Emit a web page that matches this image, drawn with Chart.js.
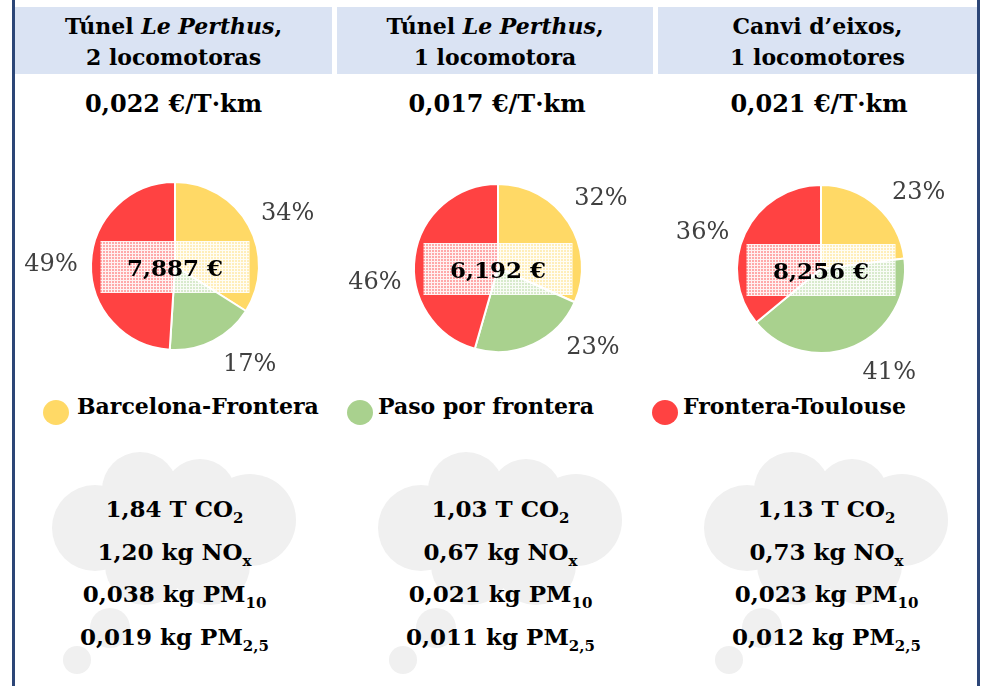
<!DOCTYPE html>
<html><head><meta charset="utf-8">
<script src="https://cdn.jsdelivr.net/npm/chart.js@4/dist/chart.umd.min.js"></script>
<style>
html,body{margin:0;padding:0;background:#fff;}
#page{position:relative;width:982px;height:686px;overflow:hidden;background:#fff;font-family:'DejaVu Serif',serif;color:#000;}
.vline{position:absolute;top:0;width:3px;height:686px;background:#2C4677;}
.hbox{position:absolute;top:7px;height:67px;background:#DAE3F3;text-align:center;font-weight:bold;font-size:22px;line-height:31px;padding-top:4px;box-sizing:border-box;}
.cost{position:absolute;top:89px;width:320px;text-align:center;font-weight:bold;font-size:24px;line-height:30px;}
.pie{position:absolute;}
.cloud{position:absolute;border-radius:50%;background:#F0F0F0;}
.emis{position:absolute;top:488px;width:320px;text-align:center;font-weight:bold;font-size:23px;line-height:42.5px;}
.emis sub{font-size:15px;vertical-align:-6px;line-height:0;}
.leg{position:absolute;top:393px;font-weight:bold;font-size:22px;line-height:26px;white-space:nowrap;}
.dot{position:absolute;width:26px;height:25px;border-radius:50%;top:400px;}
</style></head>
<body><div id="page"></div>
<script>
// ---- data ----
const titleLine1 = ['Túnel <i>Le Perthus</i>,', 'Túnel <i>Le Perthus</i>,', 'Canvi d’eixos,'];
const titleLine2 = ['2 locomotoras', '1 locomotora', '1 locomotores'];
const costPerTkm = ['0,022', '0,017', '0,021'];
const totalCost = ['7,887', '6,192', '8,256'];
const segments = ['Barcelona-Frontera', 'Paso por frontera', 'Frontera-Toulouse'];
const shareBarcelonaFrontera = [34, 32, 23];
const sharePasoFrontera = [17, 23, 41];
const shareFronteraToulouse = [49, 46, 36];
const co2 = ['1,84', '1,03', '1,13'];
const nox = ['1,20', '0,67', '0,73'];
const pm10 = ['0,038', '0,021', '0,023'];
const pm25 = ['0,019', '0,011', '0,012'];

// ---- style / layout ----
const colors = ['#FFD966', '#A9D18E', '#FF4242'];
const boxLayout = [[15, 317], [337, 316], [658, 319]];
const textCenters = [173.5, 497, 819];
const emisCenters = [174.5, 500.5, 826.5];
const pieCenters = [[174.5, 266], [497.5, 268], [821, 268.5]];
const labelNudge = [[4, -10, -1], [-1, -25, -15], [10.5, -10, -8]];
const legendDots = [43, 347, 652];
const legendText = [77, 378, 683];
const cloudOffsets = [0, 326, 652];
const cloudCircles = [[95,528,43],[140,490,38],[200,495,36],[250,520,46],[210,565,40],[145,565,40],[170,530,50],[110,628,20],[77,660,14]];

const page = document.getElementById('page');
function add(cls, style, html) {
  const d = document.createElement('div');
  d.className = cls; Object.assign(d.style, style);
  if (html !== undefined) d.innerHTML = html;
  page.appendChild(d); return d;
}
add('vline', {left: '12px'});
add('vline', {left: '977px'});

// clouds
cloudOffsets.forEach(off => {
  cloudCircles.forEach(([x, y, r]) => add('cloud', {left: (x + off - r) + 'px', top: (y - r) + 'px', width: 2*r + 'px', height: 2*r + 'px'}));
});

for (let i = 0; i < 3; i++) {
  add('hbox', {left: boxLayout[i][0] + 'px', width: boxLayout[i][1] + 'px'}, titleLine1[i] + '<br>' + titleLine2[i]);
  add('cost', {left: (textCenters[i] - 160) + 'px'}, costPerTkm[i] + ' €/T·km');
  add('emis', {left: (emisCenters[i] - 160) + 'px'},
    co2[i] + ' T CO<sub>2</sub><br>' + nox[i] + ' kg NO<sub>x</sub><br>' + pm10[i] + ' kg PM<sub>10</sub><br>' + pm25[i] + ' kg PM<sub>2,5</sub>');
}
segments.forEach((s, k) => {
  add('dot', {left: legendDots[k] + 'px', background: colors[k]});
  add('leg', {left: legendText[k] + 'px'}, s);
});

// pattern for centre box
const pc = document.createElement('canvas'); pc.width = 3; pc.height = 3;
const pctx = pc.getContext('2d');
pctx.fillStyle = 'rgba(255,255,255,0.55)'; pctx.fillRect(0, 0, 3, 3);
pctx.fillStyle = 'rgba(255,255,255,0.85)'; pctx.fillRect(0, 0, 3, 1); pctx.fillRect(0, 1, 1, 2);

const piePlugin = {
  id: 'pieDecor',
  afterDatasetsDraw(chart, args, opts) {
    const ctx = chart.ctx;
    const meta = chart.getDatasetMeta(0);
    const ds = chart.data.datasets[0];
    const cx = meta.data[0].x, cy = meta.data[0].y;
    ctx.save();
    // labels
    ctx.font = '24px "DejaVu Serif"';
    ctx.fillStyle = '#404040';
    ctx.textAlign = 'center'; ctx.textBaseline = 'middle';
    meta.data.forEach((arc, k) => {
      const mid = (arc.startAngle + arc.endAngle) / 2 + opts.nudge[k] * Math.PI / 180;
      const d = arc.outerRadius + 40;
      ctx.fillText(ds.data[k] + '%', cx + Math.cos(mid) * d, cy + Math.sin(mid) * d);
    });
    // centre box
    ctx.fillStyle = ctx.createPattern(pc, 'repeat');
    ctx.fillRect(cx - 74.5, cy + 1 - 26, 149, 52);
    ctx.font = 'bold 23px "DejaVu Serif"';
    ctx.fillStyle = '#000';
    ctx.fillText(opts.total + ' €', cx, cy + 4);
    ctx.restore();
  }
};

for (let i = 0; i < 3; i++) {
  const cv = document.createElement('canvas');
  cv.width = 320; cv.height = 260;
  cv.className = 'pie';
  cv.style.left = (pieCenters[i][0] - 160) + 'px';
  cv.style.top = (pieCenters[i][1] - 130) + 'px';
  page.appendChild(cv);
  new Chart(cv, {
    type: 'pie',
    data: {
      labels: segments,
      datasets: [{
        data: [shareBarcelonaFrontera[i], sharePasoFrontera[i], shareFronteraToulouse[i]],
        backgroundColor: colors, borderColor: '#fff', borderWidth: 2, hoverOffset: 0
      }]
    },
    options: {
      responsive: false, animation: false, events: [],
      layout: {padding: {left: 75, right: 75, top: 45, bottom: 45}},
      plugins: {legend: {display: false}, tooltip: {enabled: false},
        pieDecor: {nudge: labelNudge[i], total: totalCost[i]}}
    },
    plugins: [piePlugin]
  });
}
</script></body></html>
